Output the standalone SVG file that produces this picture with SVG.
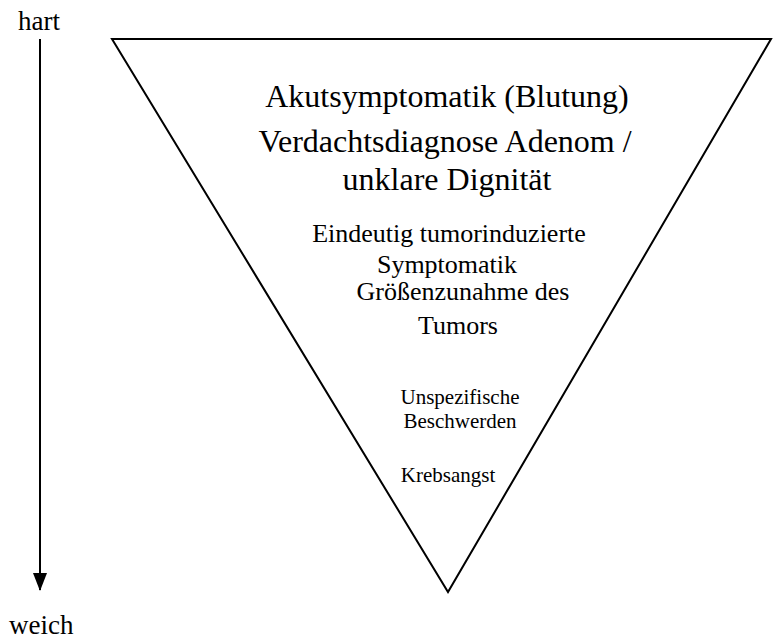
<svg xmlns="http://www.w3.org/2000/svg" width="773" height="641" viewBox="0 0 773 641">
<style>
text{font-family:"Liberation Serif","Times New Roman",serif;fill:#000;text-anchor:middle}
.l{font-size:32px}.m{font-size:26px}.s{font-size:21px}.e{font-size:27px;text-anchor:start}
.ln{stroke:#000;stroke-width:2;fill:none}
</style>
<defs><marker id="ah" markerWidth="18" markerHeight="14" refX="17" refY="7" orient="auto" markerUnits="userSpaceOnUse" viewBox="0 0 18 14"><path d="M0,0 L18,7 L0,14 Z" fill="#000"/></marker></defs>
<rect width="773" height="641" fill="#fff"/>
<g id="connectors"><line class="ln" x1="40" y1="39" x2="40" y2="590" marker-end="url(#ah)"/></g>
<g id="triangle"><polygon class="ln" points="112,39 771,39 448,592"/></g>
<g id="hart"><text class="e" x="18" y="30">hart</text></g>
<g id="weich"><text class="e" x="9" y="634">weich</text></g>
<g id="akut"><text class="l" x="447" y="107">Akutsymptomatik (Blutung)</text></g>
<g id="verdacht"><text class="l" x="445" y="152">Verdachtsdiagnose Adenom /</text><text class="l" x="447" y="190">unklare Dignität</text></g>
<g id="eindeutig"><text class="m" x="449" y="242">Eindeutig tumorinduzierte</text><text class="m" x="447" y="273">Symptomatik</text></g>
<g id="groesse"><text class="m" x="463" y="300">Größenzunahme des</text><text class="m" x="458" y="334">Tumors</text></g>
<g id="unspez"><text class="s" x="460" y="404">Unspezifische</text><text class="s" x="460" y="428">Beschwerden</text></g>
<g id="krebs"><text class="s" x="448" y="482">Krebsangst</text></g>
</svg>
